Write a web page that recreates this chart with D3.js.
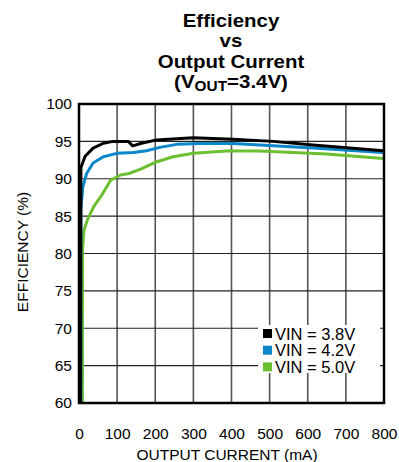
<!DOCTYPE html>
<html><head><meta charset="utf-8">
<script src="https://cdn.jsdelivr.net/npm/d3@7"></script>
<style>html,body{margin:0;padding:0;background:#fff;}svg{display:block;font-family:"Liberation Sans",Arial,sans-serif;}</style>
</head><body>
<script>
const xTicks = [0,100,200,300,400,500,600,700,800];
const yTicks = [60,65,70,75,80,85,90,95,100];
const seriesNames = ["VIN = 3.8V","VIN = 4.2V","VIN = 5.0V"];
const seriesColors = ["#000000","#0a87c8","#6cbf30"];
const vin38 = [[4,60],[5,91.5],[11,92.3],[16,93],[37,94.1],[64,94.75],[89,95],[129,95],[141,94.4],[164,94.75],[204,95.2],[299,95.5],[404,95.3],[509,95.0],[614,94.5],[798,93.75]];
const vin42 = [[5,60],[5,86],[10,88.9],[20,90.7],[37,92.1],[64,92.95],[99,93.4],[143,93.5],[177,93.75],[212,94.2],[256,94.6],[317,94.7],[404,94.7],[509,94.4],[614,94.1],[798,93.5]];
const vin50 = [[9,60],[9,80.5],[13,83.1],[22,84.5],[39,86.3],[57,87.6],[83,89.8],[109,90.5],[131,90.7],[162,91.3],[200,92.2],[247,92.95],[300,93.4],[387,93.7],[474,93.7],[562,93.5],[649,93.3],[798,92.7]];
const allSeries = [vin38, vin42, vin50];

const W=399,H=462;
const L=79,R=384,T=104,B=403;
const svg=d3.select("body").append("svg").attr("width",W).attr("height",H);
const x=d3.scaleLinear().domain([0,800]).range([L,R]);
const y=d3.scaleLinear().domain([60,100]).range([B,T]);

// title
const tg=svg.append("g").attr("font-weight","bold").attr("font-size",18.6).attr("text-anchor","middle").attr("fill","#000");
function tline(txt,by){ tg.append("text").attr("transform",`translate(231,${by}) scale(1.1,1)`).text(txt); }
tline("Efficiency",26.7);
tline("vs",46.7);
tline("Output Current",68.3);
const t4=tg.append("text").attr("transform","translate(231,88.3) scale(1.1,1)");
t4.append("tspan").text("(V");
t4.append("tspan").attr("font-size",14).attr("dy",3).text("OUT");
t4.append("tspan").attr("dy",-3).text("=3.4V)");

// grid
const g=svg.append("g");
g.selectAll("line.v").data(xTicks.slice(1,-1)).join("line")
 .attr("x1",d=>x(d)).attr("x2",d=>x(d)).attr("y1",T).attr("y2",B)
 .attr("stroke","#555").attr("stroke-width",1.6);
g.selectAll("line.h").data(yTicks.slice(1,-1)).join("line")
 .attr("y1",d=>y(d)).attr("y2",d=>y(d)).attr("x1",L).attr("x2",R)
 .attr("stroke","#222").attr("stroke-width",1.2);

// axes labels via d3 axes
const xa=svg.append("g").attr("transform",`translate(0,${B+25})`)
 .call(d3.axisBottom(x).tickValues(xTicks).tickSize(0).tickPadding(0));
xa.select(".domain").remove();
xa.selectAll("text").attr("font-size",15.5).attr("font-family","Liberation Sans, Arial").attr("fill","#000");
const ya=svg.append("g").attr("transform",`translate(${L-7},0)`)
 .call(d3.axisLeft(y).tickValues(yTicks).tickSize(0).tickPadding(0));
ya.select(".domain").remove();
ya.selectAll("text").attr("font-size",15.5).attr("font-family","Liberation Sans, Arial").attr("fill","#000");

svg.append("text").attr("x",227).attr("y",460).attr("text-anchor","middle").attr("font-size",15.5).text("OUTPUT CURRENT (mA)");
svg.append("text").attr("transform","translate(27.5,252) rotate(-90)").attr("text-anchor","middle").attr("font-size",15.5).text("EFFICIENCY (%)");

// clip
svg.append("clipPath").attr("id","clip").append("rect").attr("x",L).attr("y",T).attr("width",R-L).attr("height",B-T);
const cg=svg.append("g").attr("clip-path","url(#clip)");
[2,1,0].forEach(i=>{
  cg.append("path").datum(allSeries[i]).attr("d",d3.line().x(d=>x(d[0])).y(d=>y(d[1])).curve(d3.curveLinear))
   .attr("fill","none").attr("stroke",seriesColors[i]).attr("stroke-width",3).attr("stroke-linejoin","round");
});

// legend
const lg=svg.append("g");
lg.append("rect").attr("x",258).attr("y",325).attr("width",122).attr("height",48).attr("fill","#fff");
seriesNames.forEach((n,i)=>{
  const cy=333.5+i*16.7;
  lg.append("rect").attr("x",263).attr("y",cy-4.5).attr("width",9).attr("height",9).attr("fill",seriesColors[i]);
  lg.append("text").attr("x",275).attr("y",cy+6).attr("font-size",16.5).text(n);
});

// border
svg.append("rect").attr("x",L).attr("y",T).attr("width",R-L).attr("height",B-T).attr("fill","none").attr("stroke","#000").attr("stroke-width",2.5);
</script>
</body></html>
